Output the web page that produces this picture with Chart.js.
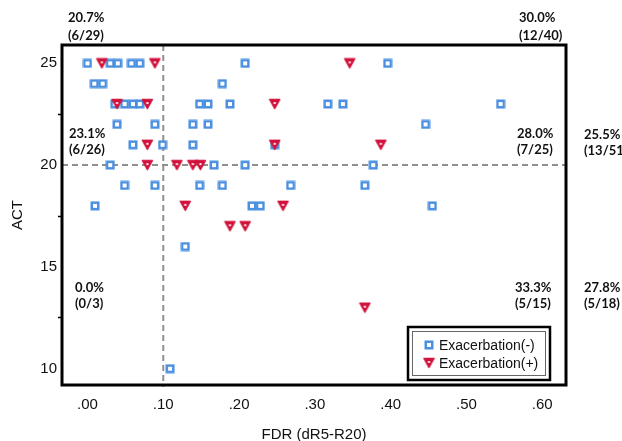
<!DOCTYPE html>
<html>
<head>
<meta charset="utf-8">
<script src="https://cdn.jsdelivr.net/npm/chart.js@4.4.0/dist/chart.umd.min.js"></script>
<style>
  html, body { margin: 0; padding: 0; background: #fff; }
</style>
</head>
<body>
<canvas id="fdrChart" width="622" height="441"></canvas>
<script>
const seriesNames = ['Exacerbation(-)', 'Exacerbation(+)'];

// Exacerbation(-)
const fdrNeg = [0.000, 0.030, 0.040, 0.058, 0.069, 0.208, 0.396,
                0.009, 0.020, 0.178,
                0.036, 0.049, 0.060, 0.069, 0.148, 0.159, 0.188, 0.317, 0.337, 0.545,
                0.039, 0.089, 0.139, 0.159, 0.446,
                0.060, 0.099, 0.139, 0.247,
                0.030, 0.167, 0.208, 0.377,
                0.049, 0.089, 0.148, 0.178, 0.268, 0.366,
                0.010, 0.217, 0.228, 0.455,
                0.129,
                0.109];
const actNeg = [25, 25, 25, 25, 25, 25, 25,
                24, 24, 24,
                23, 23, 23, 23, 23, 23, 23, 23, 23, 23,
                22, 22, 22, 22, 22,
                21, 21, 21, 21,
                20, 20, 20, 20,
                19, 19, 19, 19, 19, 19,
                18, 18, 18, 18,
                16,
                10];

// Exacerbation(+)
const fdrPos = [0.019, 0.089, 0.346,
                0.039, 0.079, 0.247,
                0.079, 0.247, 0.387,
                0.079, 0.118, 0.139, 0.149,
                0.129, 0.258,
                0.188, 0.208,
                0.366];
const actPos = [25, 25, 25,
                23, 23, 23,
                21, 21, 21,
                20, 20, 20, 20,
                18, 18,
                17, 17,
                13];

const xTicks = [0, 0.1, 0.2, 0.3, 0.4, 0.5, 0.6];
const yTicks = [10, 15, 20, 25];
const yMinorTicks = [12.5, 17.5, 22.5];
const cutFdr = 0.10;
const cutAct = 20;

// top-left, top-right, mid-left, mid-right, mid-outside, low-left, low-right, low-outside
const quadPct = ['20.7%', '30.0%', '23.1%', '28.0%', '25.5%', '0.0%', '33.3%', '27.8%'];
const quadFrac = ['(6/29)', '(12/40)', '(6/26)', '(7/25)', '(13/51)', '(0/3)', '(5/15)', '(5/18)'];

const blue = '#4a8fe0';
const red = '#d2123c';

function squareMarker() {
    const c = document.createElement('canvas');
    c.width = 10; c.height = 10;
    const g = c.getContext('2d');
    g.fillStyle = blue;
    g.fillRect(0.5, 0.5, 9, 9);
    g.fillStyle = '#fff';
    g.fillRect(3, 3, 4, 4);
    return c;
}

function triangleMarker() {
    const c = document.createElement('canvas');
    c.width = 13; c.height = 12;
    const g = c.getContext('2d');
    g.fillStyle = red;
    g.strokeStyle = red;
    g.lineWidth = 1.5;
    g.lineJoin = 'round';
    g.beginPath();
    g.moveTo(1.5, 1.5);
    g.lineTo(11.5, 1.5);
    g.lineTo(6.5, 10.5);
    g.closePath();
    g.fill();
    g.stroke();
    g.fillStyle = '#fff';
    g.fillRect(5.5, 4, 2, 2);
    return c;
}

const sqImg = squareMarker();
const triImg = triangleMarker();

const toPoints = (xs, ys) => xs.map((x, i) => ({ x: x, y: ys[i] }));

// dashed cut lines behind the points
const cutLines = {
    id: 'cutLines',
    beforeDatasetsDraw(chart) {
        const { ctx, chartArea: a, scales } = chart;
        const xp = scales.x.getPixelForValue(cutFdr);
        const yp = scales.y.getPixelForValue(cutAct);
        ctx.save();
        ctx.strokeStyle = '#8f8f8f';
        ctx.lineWidth = 2;
        ctx.setLineDash([6, 4]);
        ctx.beginPath();
        ctx.moveTo(xp, a.top);
        ctx.lineTo(xp, a.bottom + 2);
        ctx.moveTo(a.left, yp);
        ctx.lineTo(a.right, yp);
        ctx.stroke();
        ctx.restore();
    }
};

// frame, legend box and quadrant percentages
const decorations = {
    id: 'decorations',
    afterDatasetsDraw(chart) {
        const { ctx, chartArea: a, scales } = chart;
        const yc = scales.y.getPixelForValue(cutAct);
        ctx.save();

        // plot frame
        ctx.strokeStyle = '#000';
        ctx.lineWidth = 3;
        ctx.strokeRect(a.left, a.top, a.right - a.left, a.bottom - a.top);

        // legend
        const lw = 142, lh = 53;
        const lx = a.right - 16 - lw, ly = a.bottom - 5 - lh;
        ctx.fillStyle = '#fff';
        ctx.fillRect(lx, ly, lw, lh);
        ctx.lineWidth = 2.5;
        ctx.strokeStyle = '#000';
        ctx.strokeRect(lx, ly, lw, lh);
        ctx.lineWidth = 1;
        ctx.strokeStyle = '#666';
        ctx.strokeRect(lx + 4.5, ly + 4.5, lw - 9, lh - 9);
        const marks = [sqImg, triImg];
        ctx.font = '14px "Liberation Sans", Arial, sans-serif';
        ctx.fillStyle = '#111';
        ctx.textBaseline = 'middle';
        ctx.textAlign = 'left';
        seriesNames.forEach((name, i) => {
            const ry = ly + 19 + i * 18;
            const m = marks[i];
            ctx.drawImage(m, lx + 21 - m.width / 2, ry - m.height / 2 - 1);
            ctx.fillText(name, lx + 31, ry);
        });

        // quadrant labels
        const pos = [
            [a.left + 6, a.top - 27],
            [a.right - 47, a.top - 27],
            [a.left + 7, yc - 31],
            [a.right - 49, yc - 31],
            [a.right + 18, yc - 30],
            [a.left + 13, yc + 123],
            [a.right - 51, yc + 123],
            [a.right + 18, yc + 123]
        ];
        ctx.font = 'bold 13px Lato, "Open Sans", sans-serif';
        ctx.fillStyle = '#111';
        quadPct.forEach((t, i) => {
            const [px, py] = pos[i];
            const gap = i < 2 ? 18 : 16;
            ctx.fillText(t, px, py);
            ctx.fillText(quadFrac[i], px, py + gap);
        });
        ctx.restore();
    }
};

const ctx = document.getElementById('fdrChart').getContext('2d');
new Chart(ctx, {
    type: 'scatter',
    data: {
        datasets: [
            {
                label: seriesNames[0],
                data: toPoints(fdrNeg, actNeg),
                pointStyle: sqImg,
                order: 1
            },
            {
                label: seriesNames[1],
                data: toPoints(fdrPos, actPos),
                pointStyle: triImg,
                order: 0
            }
        ]
    },
    options: {
        responsive: false,
        animation: false,
        layout: { padding: { left: 0, right: 56, top: 45, bottom: 0 } },
        plugins: {
            legend: { display: false },
            tooltip: { enabled: false }
        },
        scales: {
            x: {
                type: 'linear',
                min: -0.0336,
                max: 0.6313,
                afterBuildTicks: s => { s.ticks = xTicks.map(v => ({ value: v })); },
                afterFit: s => { s.height = 56; },
                border: { display: false },
                grid: { display: false, drawTicks: false },
                ticks: {
                    padding: 11,
                    color: '#111',
                    font: { family: '"Liberation Sans", Arial, sans-serif', size: 15 },
                    callback: v => v.toFixed(2).replace(/^0/, '')
                },
                title: {
                    display: true,
                    text: 'FDR (dR5-R20)',
                    color: '#111',
                    padding: { top: 0, bottom: -3 },
                    font: { family: '"Liberation Sans", Arial, sans-serif', size: 15 }
                }
            },
            y: {
                type: 'linear',
                min: 9.2,
                max: 25.9,
                afterBuildTicks: s => {
                    s.ticks = yTicks.concat(yMinorTicks).sort((a, b) => a - b).map(v => ({ value: v }));
                },
                afterFit: s => { s.width = 62; },
                border: { display: false },
                grid: {
                    drawOnChartArea: false,
                    drawTicks: true,
                    tickLength: 4,
                    tickWidth: 1.5,
                    tickColor: c => (c.tick && yMinorTicks.includes(c.tick.value)) ? '#000' : 'rgba(0,0,0,0)'
                },
                ticks: {
                    padding: 1,
                    color: '#111',
                    font: { family: '"Liberation Sans", Arial, sans-serif', size: 15 },
                    callback: v => yTicks.includes(v) ? String(v) : ''
                },
                title: {
                    display: true,
                    text: 'ACT',
                    color: '#111',
                    padding: { top: 9, bottom: 0 },
                    font: { family: '"Liberation Sans", Arial, sans-serif', size: 15 }
                }
            }
        }
    },
    plugins: [cutLines, decorations]
});
</script>
</body>
</html>
